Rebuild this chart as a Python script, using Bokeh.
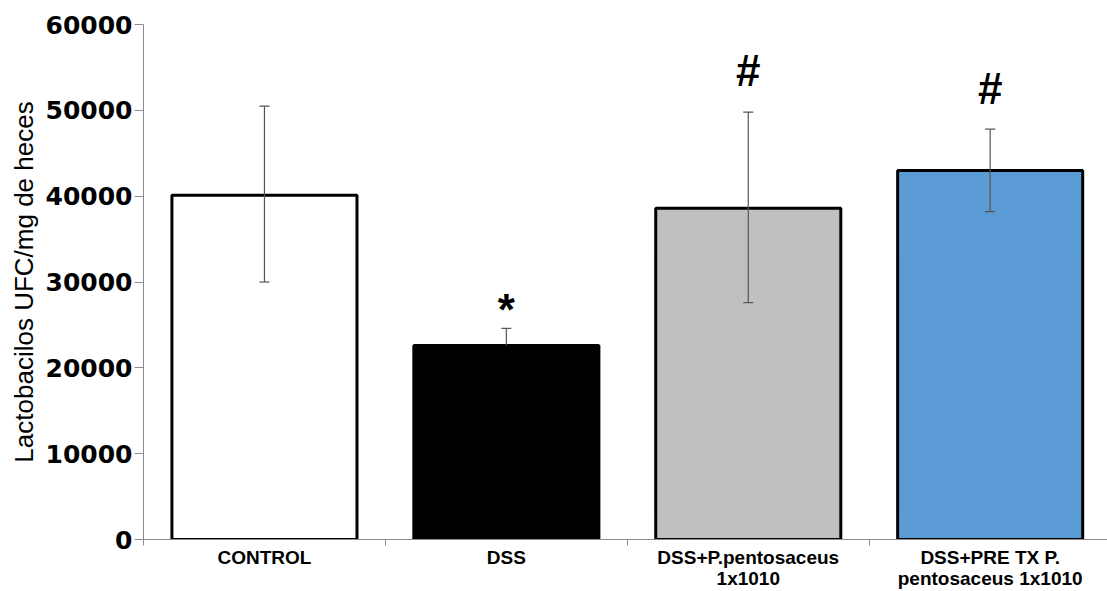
from bokeh.plotting import figure
from bokeh.models import Range1d, FixedTicker, ColumnDataSource
from bokeh.core.properties import value
from bokeh.embed import file_html
from bokeh.resources import INLINE

categories = ["CONTROL", "DSS", "DSS+P.pentosaceus\n1x1010", "DSS+PRE TX P.\npentosaceus 1x1010"]
means = [40100, 22600, 38600, 43000]
err_upper = [50500, 24600, 49800, 47800]
err_lower = [30000, 22600, 27600, 38200]
marks = ["", "*", "#", "#"]
colors = ["#ffffff", "#000000", "#c0c0c0", "#5b9bd5"]
y_ticks = [0, 10000, 20000, 30000, 40000, 50000, 60000]

n = len(categories)
xc = [i + 0.5 for i in range(n)]

p = figure(width=1107, height=591, output_backend="svg", toolbar_location=None,
           x_range=Range1d(0, 3.985), y_range=Range1d(0, 60000),
           min_border_left=143, min_border_right=0, min_border_top=24, min_border_bottom=52)
p.outline_line_color = None
p.xgrid.visible = False
p.ygrid.visible = False

src = ColumnDataSource(dict(x=xc, top=means, color=colors))
p.vbar(x="x", top="top", width=0.765, bottom=0, source=src, fill_color="color",
       line_color="black", line_width=3)

# error bars
p.segment(x0=xc, y0=err_lower, x1=xc, y1=err_upper, line_color="#555555", line_width=1.2)
p.scatter(x=xc, y=err_upper, marker="dash", size=10, line_color="#555555", line_width=1.2)
low_x = [x for x, lo, m in zip(xc, err_lower, means) if lo < m]
low_y = [lo for lo, m in zip(err_lower, means) if lo < m]
p.scatter(x=low_x, y=low_y, marker="dash", size=10, line_color="#555555", line_width=1.2)

# significance marks (the asterisk glyph sits high in its box, so it is anchored lower)
mark_y = [u + (2200 if m == "*" else 4800) for u, m in zip(err_upper, marks)]
p.text(x=xc, y=mark_y, text=marks, text_align="center", text_baseline="middle",
       text_font=value("Liberation Sans"), text_font_size="44px", text_font_style="bold",
       text_color="black")

# axes
p.yaxis.ticker = FixedTicker(ticks=y_ticks)
p.yaxis.minor_tick_line_color = None
p.yaxis.major_tick_out = 9
p.yaxis.major_tick_in = 0
p.yaxis.axis_line_color = "#8c8c8c"
p.yaxis.major_tick_line_color = "#8c8c8c"
p.yaxis.major_label_text_font = "DejaVu Sans"
p.yaxis.major_label_text_font_style = "bold"
p.yaxis.major_label_text_font_size = "25px"
p.yaxis.major_label_text_color = "black"
p.yaxis.major_label_standoff = 2
p.yaxis.axis_label = "Lactobacilos UFC/mg de heces"
p.yaxis.axis_label_text_font = "Liberation Sans"
p.yaxis.axis_label_text_font_style = "normal"
p.yaxis.axis_label_text_font_size = "26px"
p.yaxis.axis_label_text_color = "black"
p.yaxis.axis_label_standoff = 4

p.xaxis.ticker = FixedTicker(ticks=xc, minor_ticks=list(range(n + 1)))
p.xaxis.major_label_overrides = {x: c for x, c in zip(xc, categories)}
p.xaxis.major_tick_line_color = None
p.xaxis.major_tick_out = 0
p.xaxis.minor_tick_out = 6
p.xaxis.minor_tick_in = 0
p.xaxis.minor_tick_line_color = "#8c8c8c"
p.xaxis.axis_line_color = "#8c8c8c"
p.xaxis.major_label_text_font = "Liberation Sans"
p.xaxis.major_label_text_font_style = "bold"
p.xaxis.major_label_text_font_size = "19px"
p.xaxis.major_label_text_line_height = 1.0
p.xaxis.major_label_text_color = "black"
p.xaxis.major_label_standoff = 1

open("out.html", "w").write(file_html(p, INLINE))
